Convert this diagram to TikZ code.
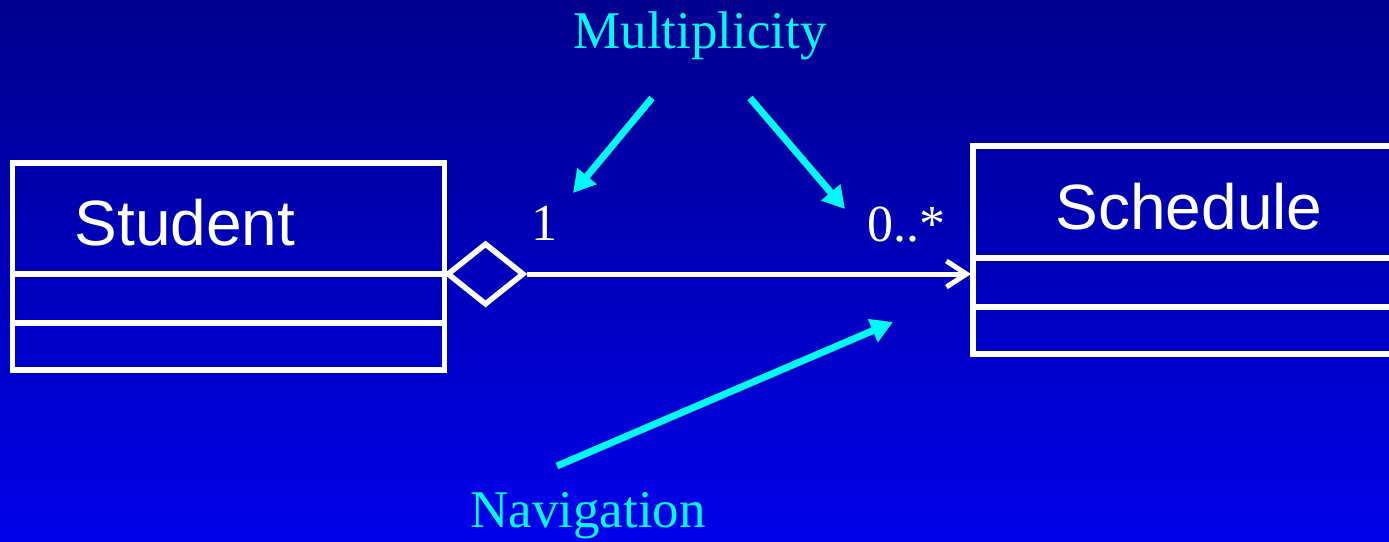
\documentclass[tikz,border=0pt]{standalone}
\usepackage{fontspec}
\setmainfont{Liberation Serif}
\newfontfamily\arialfont{Liberation Sans}
\usetikzlibrary{arrows.meta,shapes.geometric}
\definecolor{bgtop}{RGB}{0,0,142}
\definecolor{bgbot}{RGB}{0,0,234}
\definecolor{hint}{RGB}{0,250,250}
\tikzset{
  classbox/.style={draw=white, line width=5.5pt, rectangle, inner sep=0pt},
  divider/.style={draw=white, line width=5.5pt},
  classname/.style={text=white, font=\arialfont\fontsize{64}{70}\selectfont, inner sep=0pt},
  multlabel/.style={text=white, font=\fontsize{52}{58}\selectfont, inner sep=0pt, anchor=base},
  hintlabel/.style={text=hint, font=\fontsize{53}{60}\selectfont, inner sep=0pt, anchor=base},
  hintarrow/.style={draw=hint, line width=7pt, -{Triangle[length=22pt,width=24pt]}},
  assoc/.style={draw=white, line width=5pt, -{Straight Barb[length=20pt,width=26pt,line width=5pt]}},
  aggdiamond/.style={diamond, draw=white, line width=5.5pt, inner sep=0pt, minimum width=77pt, minimum height=62pt}
}
\begin{document}
\begin{tikzpicture}[x=1pt,y=-1pt]
\useasboundingbox (0,0) rectangle (1389,541);
\clip (0,0) rectangle (1389,541);
\shade[top color=bgtop, bottom color=bgbot] (0,0) rectangle (1389,541);

% Student class
\node[classbox, minimum width=432pt, minimum height=207pt] (student) at (228.5,266.5) {};
\coordinate (sd1l) at (13,274); \coordinate (sd1r) at (444,274);
\coordinate (sd2l) at (13,323); \coordinate (sd2r) at (444,323);
\draw[divider] (sd1l) -- (sd1r);
\draw[divider] (sd2l) -- (sd2r);
\node[classname] (studentname) at (185,223) {Student};

% Schedule class
\node[classbox, minimum width=432pt, minimum height=208pt] (schedule) at (1189,250) {};
\coordinate (hd1l) at (973,258); \coordinate (hd1r) at (1405,258);
\coordinate (hd2l) at (973,307); \coordinate (hd2r) at (1405,307);
\draw[divider] (hd1l) -- (hd1r);
\draw[divider] (hd2l) -- (hd2r);
\node[classname] (schedulename) at (1189,207) {Schedule};

% Aggregation association
\node[aggdiamond] (agg) at (485.5,274) {};
\coordinate (assocend) at (971,274);
\draw[assoc] (agg.east) -- (assocend);

% Multiplicities
\node[multlabel] (mone) at (544,240) {1};
\node[multlabel] (mmany) at (906,241) {0..*};

% Hint labels and arrows
\node[hintlabel] (multtitle) at (700,48) {Multiplicity};
\node[hintlabel] (navtitle) at (588,527) {Navigation};
\coordinate (ma1s) at (652,98);
\coordinate (ma1t) at (573,193);
\coordinate (ma2s) at (750,98);
\coordinate (ma2t) at (845,209);
\coordinate (nas) at (557,466);
\coordinate (natip) at (893,322);
\draw[hintarrow] (ma1s) -- (ma1t);
\draw[hintarrow] (ma2s) -- (ma2t);
\draw[hintarrow] (nas) -- (natip);
\end{tikzpicture}
\end{document}
